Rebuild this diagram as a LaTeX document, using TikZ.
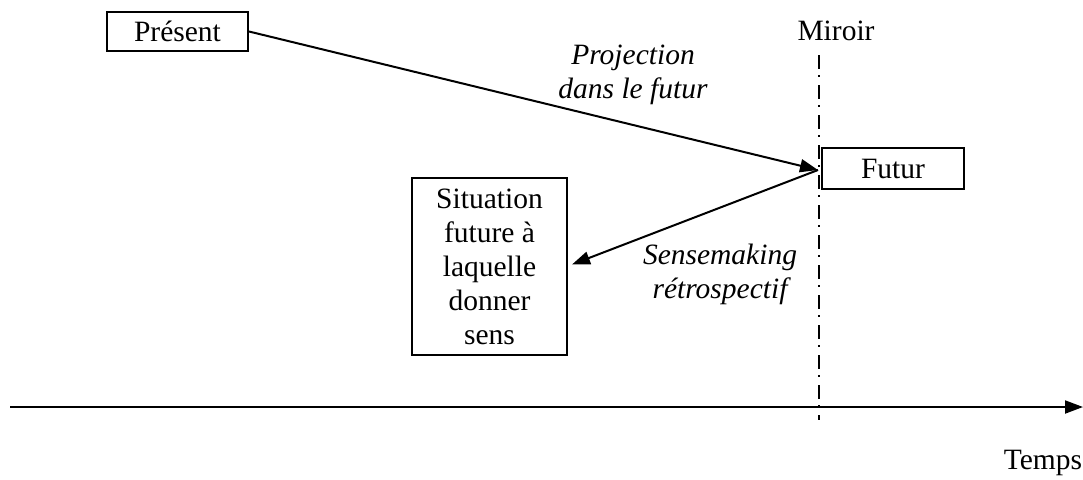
\documentclass[tikz,border=0pt]{standalone}
\usepackage{fontspec}
\setmainfont{Liberation Serif}
\usetikzlibrary{arrows.meta}
\begin{document}
\begin{tikzpicture}[x=1pt,y=-1pt,
  every node/.style={font=\fontsize{29.5}{34}\selectfont, inner sep=0pt},
  box/.style={draw, line width=2pt, align=center},
  conn/.style={line width=2pt, -{Triangle[length=18pt,width=13pt]}},
  lbl/.style={font=\fontsize{29.5}{34}\selectfont\itshape, align=center},
  mirror/.style={line width=2pt, dash pattern=on 14pt off 6pt on 2pt off 8pt}]
\useasboundingbox (0,0) rectangle (1083,479);
\node[box, minimum width=141pt, minimum height=39pt] (pres) at (177.5,31.5) {Présent};
\node[box, minimum width=142pt, minimum height=41pt] (fut) at (893,168.5) {Futur};
\node[box, minimum width=155pt, minimum height=177pt] (sit) at (489.5,266.5) {Situation\\future à\\laquelle\\donner\\sens};
\node (mir) at (836,31) {Miroir};
\coordinate (mtop) at (819,55);
\coordinate (mbot) at (819,420);
\draw[mirror] (mtop) -- (mbot);
\coordinate (a0) at (10,407);
\coordinate (a1) at (1083,407);
\draw[conn] (a0) -- (a1);
\node (temps) at (1043,463) {Temps};
\coordinate (fin) at (818,170);
\draw[conn] (pres.east) -- (fin);
\draw[conn] (fin) -- ([xshift=4pt,yshift=2pt]sit.east);
\node[lbl] (proj) at (633,75) {Projection\\dans le futur};
\node[lbl] (sense) at (720,274) {Sensemaking\\rétrospectif};
\end{tikzpicture}
\end{document}
